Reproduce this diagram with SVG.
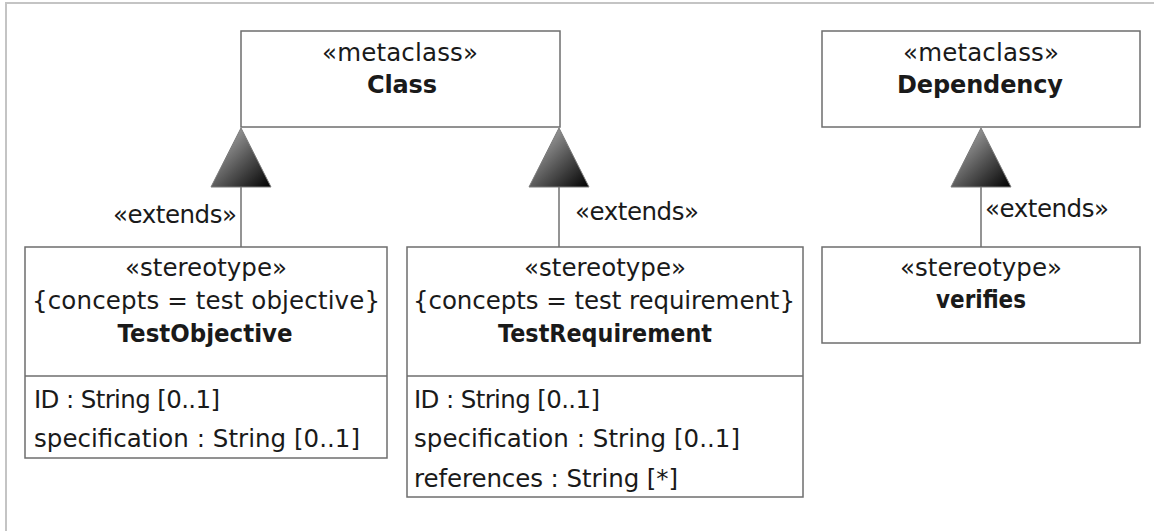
<svg xmlns="http://www.w3.org/2000/svg" width="1154" height="531" viewBox="0 0 1154 531">
  <defs>
    <linearGradient id="gen" x1="0" y1="0" x2="1" y2="1">
      <stop offset="0" stop-color="#c4c4c4"/>
      <stop offset="0.55" stop-color="#555555"/>
      <stop offset="1" stop-color="#000000"/>
    </linearGradient>
    <style>
      .box { fill: #ffffff; stroke: #6e6e6e; stroke-width: 1.5; }
      .sep { stroke: #6e6e6e; stroke-width: 1.5; }
      .ln { stroke: #707070; stroke-width: 1.5; fill: none; }
      .tri { fill: url(#gen); stroke: #7a7a7a; stroke-width: 1; }
      text { font-family: "DejaVu Sans", "Liberation Sans", sans-serif; font-size: 24.5px; fill: #1a1a1a; }
      .c { text-anchor: middle; }
      .b { font-weight: bold; font-size: 24px; }
      .frame { fill: none; stroke: #c4c4c4; stroke-width: 2; }
    </style>
  </defs>

  <rect width="1154" height="531" fill="#ffffff"/>
  <path class="frame" d="M6,531 V3 H1154"/>

  <!-- generalization / extension connectors -->
  <g id="connectors">
    <line class="ln" x1="241" y1="187" x2="241" y2="247"/>
    <polygon class="tri" points="241,128 211,187 271,187"/>
    <text x="237" y="223" text-anchor="end" textLength="124">«extends»</text>

    <line class="ln" x1="559" y1="187" x2="559" y2="247"/>
    <polygon class="tri" points="559,128 529,187 589,187"/>
    <text x="575" y="220" textLength="124">«extends»</text>

    <line class="ln" x1="981" y1="187" x2="981" y2="247"/>
    <polygon class="tri" points="981,128 951,187 1011,187"/>
    <text x="985" y="217" textLength="124">«extends»</text>
  </g>

  <g id="metaclass-class">
    <rect class="box" x="241" y="31" width="319" height="96"/>
    <text class="c" x="400" y="61" textLength="156">«metaclass»</text>
    <text class="c b" x="402" y="93" textLength="70">Class</text>
  </g>

  <g id="metaclass-dependency">
    <rect class="box" x="822" y="31" width="318" height="96"/>
    <text class="c" x="981" y="61" textLength="156">«metaclass»</text>
    <text class="c b" x="980" y="93" textLength="166">Dependency</text>
  </g>

  <g id="stereotype-testobjective">
    <rect class="box" x="25" y="247" width="362" height="211"/>
    <line class="sep" x1="25" y1="376" x2="387" y2="376"/>
    <text class="c" x="206" y="276" textLength="162">«stereotype»</text>
    <text class="c" x="206" y="309" textLength="348">{concepts = test objective}</text>
    <text class="c b" x="205" y="342" textLength="175" lengthAdjust="spacingAndGlyphs">TestObjective</text>
    <text x="34" y="408" textLength="186">ID : String [0..1]</text>
    <text x="34" y="447" textLength="326">specification : String [0..1]</text>
  </g>

  <g id="stereotype-testrequirement">
    <rect class="box" x="407" y="247" width="396" height="250"/>
    <line class="sep" x1="407" y1="376" x2="803" y2="376"/>
    <text class="c" x="605" y="276" textLength="162">«stereotype»</text>
    <text class="c" x="604" y="309" textLength="382">{concepts = test requirement}</text>
    <text class="c b" x="605" y="342" textLength="214" lengthAdjust="spacingAndGlyphs">TestRequirement</text>
    <text x="414" y="408" textLength="186">ID : String [0..1]</text>
    <text x="414" y="447" textLength="326">specification : String [0..1]</text>
    <text x="414" y="487" textLength="264">references : String [*]</text>
  </g>

  <g id="stereotype-verifies">
    <rect class="box" x="822" y="247" width="318" height="96"/>
    <text class="c" x="981" y="276" textLength="162">«stereotype»</text>
    <text class="c b" x="981" y="308" textLength="90" lengthAdjust="spacingAndGlyphs">verifies</text>
  </g>
</svg>
